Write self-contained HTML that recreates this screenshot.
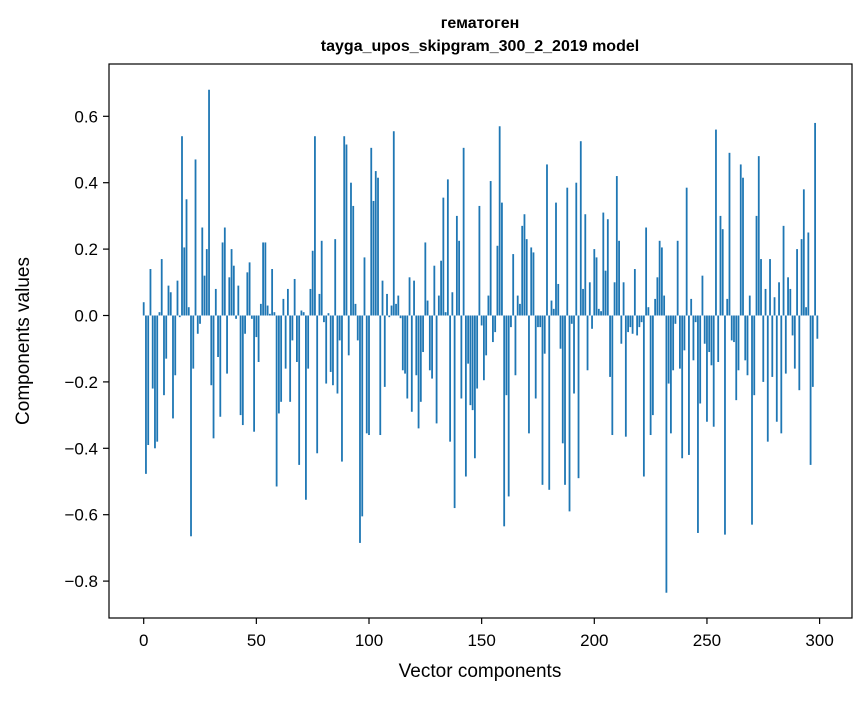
<!DOCTYPE html>
<html><head><meta charset="utf-8"><style>
body{margin:0;background:#fff;}
svg text{font-family:"Liberation Sans","DejaVu Sans",sans-serif;fill:#000;}
</style></head><body>
<svg id="chart" width="867" height="696" viewBox="0 0 867 696" xmlns="http://www.w3.org/2000/svg">
<rect x="0" y="0" width="867" height="696" fill="#fff"/>
<text x="480" y="28" text-anchor="middle" font-size="16" font-weight="bold">гематоген</text>
<text x="480" y="51" text-anchor="middle" font-size="16" font-weight="bold">tayga_upos_skipgram_300_2_2019 model</text>
<g id="bars"></g>
<rect x="109" y="64" width="743" height="554" fill="none" stroke="#000" stroke-width="1.2"/>
<g id="xaxis"></g>
<g id="yaxis"></g>
<text x="480" y="677" text-anchor="middle" font-size="19">Vector components</text>
<text transform="translate(29,341) rotate(-90)" text-anchor="middle" font-size="19">Components values</text>
</svg>
<script>
const values = [
0.04,-0.477,-0.39,0.14,-0.22,-0.40,-0.38,0.01,0.17,-0.24,
-0.13,0.09,0.07,-0.31,-0.18,0.105,-0.005,0.54,0.205,0.35,
0.025,-0.665,-0.16,0.47,-0.055,-0.025,0.265,0.12,0.2,0.68,
-0.21,-0.37,0.08,-0.125,-0.305,0.22,0.265,-0.175,0.115,0.2,
0.15,-0.01,0.09,-0.3,-0.33,-0.055,0.13,0.16,-0.01,-0.35,
-0.065,-0.14,0.035,0.22,0.22,0.03,0.005,0.14,0.01,-0.515,
-0.295,-0.26,0.05,-0.16,0.08,-0.26,-0.075,0.11,-0.14,-0.45,
0.015,0.01,-0.555,-0.16,0.08,0.195,0.54,-0.415,0.065,0.225,
-0.02,-0.205,0.007,-0.17,-0.21,0.23,-0.235,-0.075,-0.44,0.54,
0.515,-0.12,0.4,0.33,0.035,-0.075,-0.685,-0.605,0.175,-0.355,
-0.36,0.505,0.345,0.435,0.415,-0.36,0.105,-0.215,0.065,-0.005,
0.03,0.555,0.035,0.06,-0.008,-0.165,-0.175,-0.25,0.115,-0.29,
0.105,-0.18,-0.34,-0.26,-0.11,0.22,0.045,-0.165,-0.19,0.15,
-0.325,0.06,0.165,0.355,0.01,0.41,-0.38,0.07,-0.58,0.3,
0.225,-0.25,0.505,-0.485,-0.145,-0.27,-0.285,-0.43,-0.22,0.33,
-0.03,-0.195,-0.12,0.06,0.405,-0.08,-0.05,0.21,0.57,0.34,
-0.635,-0.24,-0.545,-0.035,0.185,-0.18,0.06,0.035,0.27,0.305,
0.23,-0.355,0.205,0.19,-0.25,-0.035,-0.035,-0.51,-0.115,0.455,
-0.525,0.045,0.02,0.34,0.095,-0.1,-0.385,-0.51,0.385,-0.59,
-0.025,-0.235,0.4,-0.49,0.525,0.08,0.305,-0.165,0.1,-0.04,
0.2,0.175,0.02,0.013,0.31,0.135,0.29,-0.185,-0.36,0.1,
0.42,0.225,-0.085,0.1,-0.365,-0.05,-0.035,-0.055,0.14,-0.06,
-0.035,-0.02,-0.485,0.265,0.025,-0.36,-0.3,0.05,0.115,0.225,
0.205,0.06,-0.835,-0.205,-0.355,-0.165,-0.025,0.225,-0.16,-0.43,
-0.105,0.385,-0.42,0.05,-0.135,-0.02,-0.655,-0.265,0.12,-0.085,
-0.32,-0.11,-0.15,-0.335,0.56,-0.14,0.3,0.26,-0.66,0.05,
0.49,-0.075,-0.08,-0.255,-0.165,0.455,0.415,-0.135,-0.18,0.06,
-0.63,-0.24,0.3,0.48,0.17,-0.2,0.08,-0.38,0.17,-0.185,
0.055,-0.32,0.1,-0.355,0.27,-0.175,0.115,0.08,-0.06,-0.16,
0.2,-0.225,0.23,0.38,0.025,0.25,-0.45,-0.215,0.58,-0.07
];
const xTicks = [0,50,100,150,200,250,300];
const yTicks = [-0.8,-0.6,-0.4,-0.2,0.0,0.2,0.4,0.6];
const NS='http://www.w3.org/2000/svg';
function xs(i){return 143.7 + i*2.253;}
function ys(v){return 315.5 - v*332;}
const bars=document.getElementById('bars');
values.forEach((v,i)=>{
  const r=document.createElementNS(NS,'rect');
  
  
  const y0=ys(0), y1=ys(v);
  r.setAttribute('x',(xs(i)-0.9).toFixed(2));
  r.setAttribute('width','1.8');
  r.setAttribute('y',Math.min(y0,y1).toFixed(2));
  r.setAttribute('height',Math.max(0.3,Math.abs(y1-y0)).toFixed(2));
  r.setAttribute('fill','#1f77b4');
  bars.appendChild(r);
});
const xa=document.getElementById('xaxis');
xTicks.forEach(t=>{
  const l=document.createElementNS(NS,'line');
  
  
  l.setAttribute('x1',xs(t));l.setAttribute('x2',xs(t));
  l.setAttribute('y1',618);l.setAttribute('y2',624);
  l.setAttribute('stroke','#000');l.setAttribute('stroke-width','1.2');
  xa.appendChild(l);
  const tx=document.createElementNS(NS,'text');
  
  
  tx.setAttribute('x',xs(t));tx.setAttribute('y',646);
  tx.setAttribute('text-anchor','middle');tx.setAttribute('font-size','17');
  tx.textContent=String(t);
  xa.appendChild(tx);
});
const ya=document.getElementById('yaxis');
yTicks.forEach(t=>{
  const l=document.createElementNS(NS,'line');
  
  
  l.setAttribute('x1',103);l.setAttribute('x2',109);
  l.setAttribute('y1',ys(t));l.setAttribute('y2',ys(t));
  l.setAttribute('stroke','#000');l.setAttribute('stroke-width','1.2');
  ya.appendChild(l);
  const tx=document.createElementNS(NS,'text');
  
  
  tx.setAttribute('x',98);tx.setAttribute('y',ys(t)+6);
  tx.setAttribute('text-anchor','end');tx.setAttribute('font-size','17');
  tx.textContent=(t<0?'\u2212':'')+Math.abs(t).toFixed(1);
  ya.appendChild(tx);
});
</script>
</body></html>
